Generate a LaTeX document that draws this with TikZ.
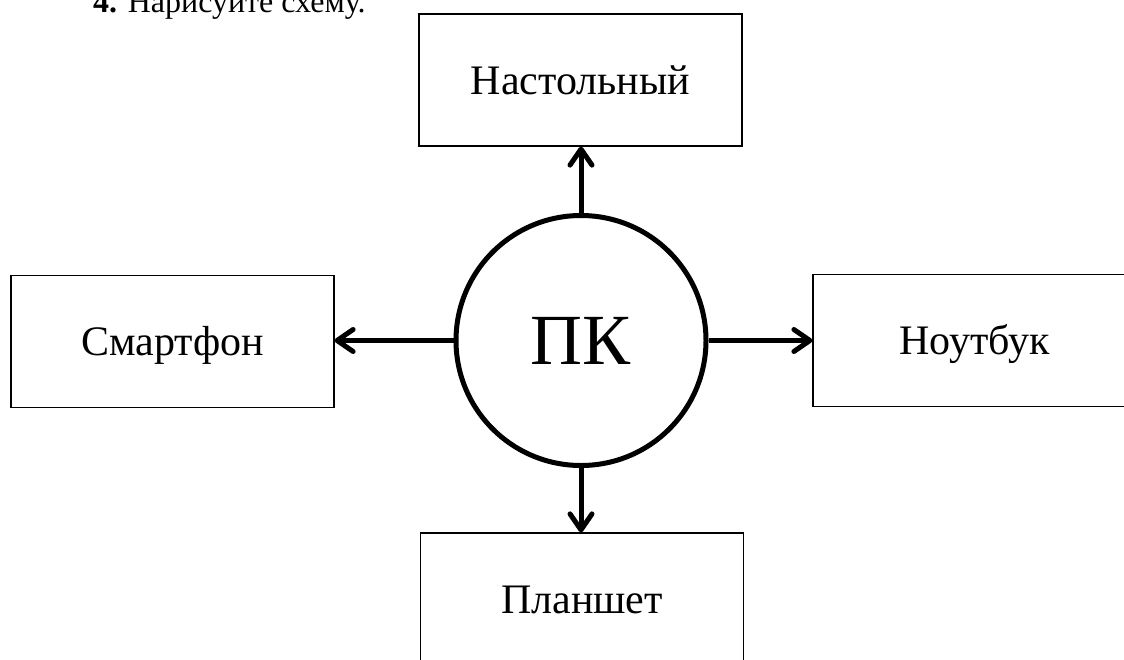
\documentclass[tikz,border=0pt]{standalone}
\usepackage{fontspec}
\setmainfont{Liberation Serif}
\usetikzlibrary{arrows.meta}
\begin{document}
\begin{tikzpicture}[x=1pt,y=-1pt,
  boxnode/.style={draw, line width=1.2pt, minimum width=323pt, minimum height=132pt, inner sep=0pt,
    font=\fontsize{42}{50}\selectfont, text height=28pt, text depth=0pt},
  pcnode/.style={draw, circle, line width=5pt, minimum size=250pt, inner sep=0pt,
    font=\fontsize{72}{80}\selectfont, text height=48pt, text depth=0pt},
  arr/.style={line width=5pt, -{Straight Barb[length=16pt,width=22pt,round]}}]
\useasboundingbox (0,0) rectangle (1124,659);
\clip (0,0) rectangle (1124,659);
\node[anchor=base west, inner sep=0pt, font=\fontsize{32}{38}\selectfont] (title) at (93,12) {\textbf{4.} Нарисуйте схему.};
\node[boxnode] (top) at (580.5,80) {Настольный};
\node[boxnode] (left) at (172.5,341.5) {Смартфон};
\node[boxnode] (right) at (974.5,340.5) {Ноутбук};
\node[boxnode] (bottom) at (582,599) {Планшет};
\node[pcnode] (pc) at (581,340.5) {ПК};
\draw[arr] (pc.north) -- (pc.north |- top.south);
\draw[arr] (pc.south) -- (pc.south |- bottom.north);
\draw[arr] (pc.west) -- (pc.west -| left.east);
\draw[arr] (pc.east) -- (pc.east -| right.west);
\end{tikzpicture}
\end{document}
